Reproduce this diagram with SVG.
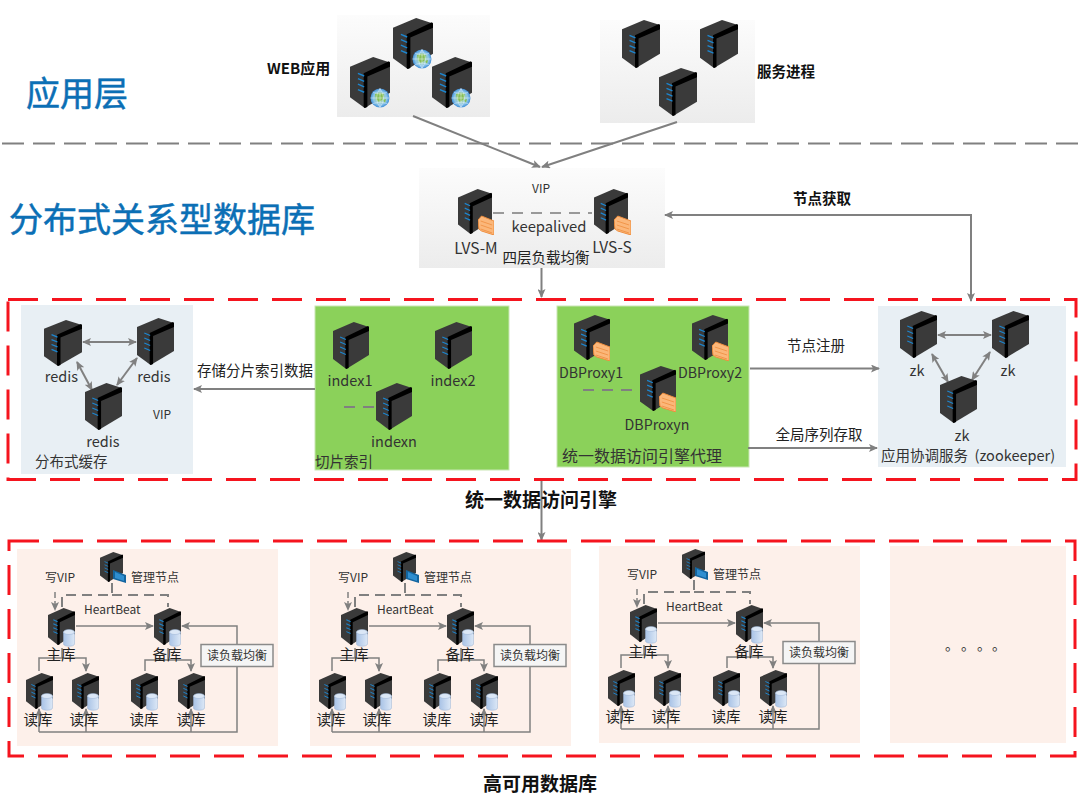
<svg xmlns="http://www.w3.org/2000/svg" width="1080" height="798" viewBox="0 0 1080 798">
<style>
text{font-family:"Noto Sans CJK SC","Noto Sans",sans-serif;fill:#333}
.m{text-anchor:middle}
.b{font-weight:bold;fill:#111}
.h{font-size:34px;fill:#0b6fb5;stroke:#0b6fb5;stroke-width:.5}
.c{fill:none;stroke:#808080;stroke-width:2}
.c1{fill:none;stroke:#808080;stroke-width:1.5}
.d{stroke-dasharray:11 8}
.a{marker-end:url(#ah)}
.aa{marker-end:url(#ah);marker-start:url(#as)}
.red{fill:none;stroke:#f5141e;stroke-width:3;stroke-dasharray:30 14}
.f12{font-size:12px}.f14{font-size:14.5px;fill:#222}.f15{font-size:14.5px}
.lab{fill:#f5f5f5;stroke:#8a8a8a;stroke-width:1.5}
</style>
<defs>
<linearGradient id="pg" x1="0" y1="0" x2="0" y2="1"><stop offset="0" stop-color="#fcfcfc"/><stop offset="1" stop-color="#ececec"/></linearGradient>
<linearGradient id="db" x1="0" y1="0" x2="1" y2="0"><stop offset="0" stop-color="#a9c3e6"/><stop offset="1" stop-color="#dbe7f6"/></linearGradient>
<radialGradient id="gl"><stop offset="0" stop-color="#a8d878"/><stop offset="0.7" stop-color="#8cc5e8"/><stop offset="1" stop-color="#3f8fd8"/></radialGradient>
<marker id="ah" markerWidth="9" markerHeight="8" refX="8" refY="4" orient="auto" markerUnits="userSpaceOnUse"><path d="M0 0L9 4L0 8L2 4Z" fill="#808080"/></marker>
<marker id="as" markerWidth="9" markerHeight="8" refX="1" refY="4" orient="auto" markerUnits="userSpaceOnUse"><path d="M9 0L0 4L9 8L7 4Z" fill="#808080"/></marker>
<symbol id="srv" viewBox="0 0 38 47" preserveAspectRatio="none">
<path d="M0 9L22 0L38 5V33L14 47L0 37Z" fill="#3a3a3a"/>
<path d="M13 15L37 4L38 5V9L16.500 18V46L14 47L13 46Z" fill="#000"/>
<path d="M7.500 15l6 2.500M7.500 20l6 2.500M7.500 25l6 2.500M7.500 30l6 2.500" stroke="#1c86d0" stroke-width="1.300" fill="none"/>
</symbol>
<symbol id="fw" viewBox="0 0 18 20" preserveAspectRatio="none">
<path d="M0 5L4 1L18 6V20L4 16L1 14Z" fill="#fbb77a" stroke="#ee8c3c" stroke-width="1"/>
<path d="M3 6l13 4M3 10l13 4M3 14l13 4" stroke="#ee8c3c" stroke-width=".8" fill="none"/>
</symbol>
<symbol id="gb" viewBox="0 0 20 20">
<circle cx="10" cy="10" r="9.500" fill="url(#gl)"/>
<path d="M5 6q5-3 9 0l-1 5l-4 3l-3-3ZM13 12l3-1l-1 4Z" fill="#86bf55"/>
<path d="M.5 10h19M10 .5v19M3 4.500q7 3 14 0M3 15.500q7-3 14 0M10 .5q-7 9.500 0 19M10 .5q7 9.500 0 19" stroke="#e8f4ff" stroke-width=".5" fill="none"/>
</symbol>
<symbol id="cyl" viewBox="0 0 12 18" preserveAspectRatio="none">
<path d="M.5 3V15C.5 18 11.500 18 11.500 15V3Z" fill="url(#db)" stroke="#9db4d4" stroke-width=".5"/>
<ellipse cx="6" cy="3" rx="5.500" ry="2.500" fill="#dbe7f6" stroke="#9db4d4" stroke-width=".5"/>
</symbol>
<symbol id="mon" viewBox="0 0 13 13" preserveAspectRatio="none">
<path d="M0 0L13 5V13L0 9Z" fill="#14659f"/><path d="M2 2L11 6V11L2 8Z" fill="#2f8ed0"/>
</symbol>
</defs>

<rect width="1080" height="798" fill="#fff"/>

<g id="titles">
<text x="26" y="106" class="h">应用层</text>
<text x="9" y="232" class="h">分布式关系型数据库</text>
</g>

<g id="panels">
<rect x="337" y="15" width="153" height="102" fill="url(#pg)"/>
<rect x="600" y="20" width="155" height="103" fill="url(#pg)"/>
<rect x="419" y="168" width="246" height="100" fill="url(#pg)"/>
</g>

<g id="connectors">
<path class="c" d="M2 143.500H1080" style="stroke-dasharray:22 9"/>
<path class="c a" d="M413 116L540 167"/>
<path class="c a" d="M677 122L542 167"/>
<path class="c a" d="M541.500 268V297"/>
<path class="c aa" d="M971 301V215H665"/>
<path class="c a" d="M541.500 480V540"/>
</g>

<g id="web-app">
<use href="#srv" x="350" y="57" width="40" height="51"/><use href="#gb" x="370" y="88" width="20" height="20"/>
<use href="#srv" x="393" y="18" width="40" height="51"/><use href="#gb" x="412" y="49" width="20" height="20"/>
<use href="#srv" x="432" y="57" width="40" height="51"/><use href="#gb" x="451" y="88" width="20" height="20"/>
<text x="267" y="74" class="b" font-size="15">WEB应用</text>
</g>
<g id="service-process">
<use href="#srv" x="622" y="20" width="38" height="48"/>
<use href="#srv" x="700" y="20" width="38" height="48"/>
<use href="#srv" x="659" y="68" width="38" height="48"/>
<text x="757" y="77" class="b" font-size="14.500">服务进程</text>
</g>

<g id="lvs">
<path class="c d" d="M493 213H592" style="stroke:#999"/>
<use href="#srv" x="458" y="189" width="34" height="45"/><use href="#fw" x="478" y="215" width="16" height="20"/>
<use href="#srv" x="594" y="189" width="34" height="45"/><use href="#fw" x="614" y="215" width="17" height="20"/>
<text x="541" y="193" class="m f12">VIP</text>
<text x="549" y="232" class="m" font-size="14.800">keepalived</text>
<text x="476" y="254" class="m" font-size="15.500">LVS-M</text>
<text x="612" y="253" class="m" font-size="15.500">LVS-S</text>
<text x="546" y="263" class="m f14">四层负载均衡</text>
</g>

<rect id="frame-engine" class="red" x="8" y="299.500" width="1068" height="180"/>

<g id="redis-cache">
<rect x="21" y="305" width="172" height="169" fill="#e8eff4"/>
<path class="c aa" d="M83 342H136"/>
<path class="c aa" d="M77 362L92 390"/>
<path class="c aa" d="M117 385L137 358"/>
<use href="#srv" x="44" y="320" width="38" height="46"/>
<use href="#srv" x="137" y="318" width="37" height="47"/>
<use href="#srv" x="85" y="383" width="37" height="47"/>
<text x="61.500" y="382" class="m f15">redis</text>
<text x="154" y="382" class="m f15">redis</text>
<text x="103" y="447" class="m f15">redis</text>
<text x="162" y="419" class="m f12">VIP</text>
<text x="35" y="467" font-size="14.500">分布式缓存</text>
</g>

<g id="slice-index">
<rect x="315" y="306" width="194" height="164" fill="#8bd15a" stroke="#c9e6b4" stroke-width="1"/>
<path class="c d" d="M344 407H376"/>
<use href="#srv" x="333" y="322" width="36" height="47"/>
<use href="#srv" x="435" y="322" width="37" height="47"/>
<use href="#srv" x="376" y="383" width="36" height="47"/>
<text x="350" y="386" class="m f15">index1</text>
<text x="453" y="386" class="m f15">index2</text>
<text x="394" y="447" class="m f15">indexn</text>
<text x="315" y="467" font-size="14.500">切片索引</text>
</g>

<g id="dbproxy">
<rect x="557" y="306" width="192" height="161" fill="#8bd15a" stroke="#c9e6b4" stroke-width="1"/>
<path class="c d" d="M583 390H640"/>
<use href="#srv" x="574" y="315" width="36" height="45"/><use href="#fw" x="593" y="341" width="17" height="20"/>
<use href="#srv" x="692" y="315" width="36" height="45"/><use href="#fw" x="712" y="341" width="17" height="20"/>
<use href="#srv" x="640" y="366" width="36" height="45"/><use href="#fw" x="659" y="392" width="17" height="20"/>
<text x="591" y="378" class="m" font-size="14.200">DBProxy1</text>
<text x="710" y="378" class="m" font-size="14.200">DBProxy2</text>
<text x="657" y="430" class="m" font-size="14.200">DBProxyn</text>
<text x="562" y="462" font-size="16">统一数据访问引擎代理</text>
</g>

<g id="zookeeper">
<rect x="878" y="306" width="188" height="161" fill="#e8eff4"/>
<path class="c aa" d="M938 335H991"/>
<path class="c aa" d="M932 354L948 382"/>
<path class="c aa" d="M972 380L990 352"/>
<use href="#srv" x="900" y="311" width="37" height="47"/>
<use href="#srv" x="992" y="311" width="37" height="47"/>
<use href="#srv" x="940" y="376" width="37" height="47"/>
<text x="917" y="376" class="m f15">zk</text>
<text x="1008" y="376" class="m f15">zk</text>
<text x="962" y="441" class="m f15">zk</text>
<text x="881" y="461" font-size="14.500">应用协调服务&#160;&#160;(zookeeper)</text>
</g>

<g id="edge-labels">
<path class="c a" d="M315 389H194"/>
<path class="c a" d="M750 368.500H879"/>
<path class="c a" d="M748 448H877"/>
<text x="255" y="376" class="m f14">存储分片索引数据</text>
<text x="816" y="351" class="m f14">节点注册</text>
<text x="819" y="440" class="m f14">全局序列存取</text>
<text x="822" y="204" class="m b" font-size="14.500">节点获取</text>
<text x="541" y="507" class="m b" font-size="19">统一数据访问引擎</text>
<text x="540" y="791" class="m b" font-size="19">高可用数据库</text>
</g>

<rect id="frame-db" class="red" x="9" y="541" width="1066" height="215"/>

<g id="db-cluster-1">
<rect x="17" y="549" width="261" height="197" fill="#fdf0ea"/>
<g class="links">
<path class="c d" d="M112 583V595H62V607M112 595H168V607" style="stroke-dasharray:10 6"/>
<path class="c1 a" style="stroke-dasharray:6 3" d="M55 592V610"/>
<path class="c1 a" d="M76 626H153"/>
<path class="c1 a" d="M62 648V658H39V671M62 658H86V671"/>
<path class="c1 a" d="M168 648V660H145V671M168 660H191V671"/>
<path class="c1 a" d="M39 732V709"/><path class="c1 a" d="M86 732V709"/><path class="c1 a" d="M191 732V709"/>
<path class="c1 a" d="M39 732H237V626H182"/>
</g>
<use href="#srv" x="100" y="552" width="23" height="30"/><use href="#mon" x="113" y="570" width="13" height="13"/>
<use href="#srv" x="48" y="608" width="27" height="37"/><use href="#cyl" x="63" y="629" width="12" height="18"/>
<use href="#srv" x="154" y="608" width="27" height="37"/><use href="#cyl" x="169" y="629" width="12" height="18"/>
<use href="#srv" x="26" y="673" width="27" height="36"/><use href="#cyl" x="41" y="693" width="12" height="18"/>
<use href="#srv" x="72" y="673" width="27" height="36"/><use href="#cyl" x="87" y="693" width="12" height="18"/>
<use href="#srv" x="131" y="673" width="27" height="36"/><use href="#cyl" x="146" y="693" width="12" height="18"/>
<use href="#srv" x="178" y="673" width="27" height="36"/><use href="#cyl" x="193" y="693" width="12" height="18"/>
<text x="131" y="582" class="f12">管理节点</text><text x="45" y="582" class="f12">写VIP</text>
<text x="84" y="614" class="f12">HeartBeat</text>
<text x="61" y="660" class="m f14">主库</text><text x="167" y="660" class="m f14">备库</text>
<text x="38" y="725" class="m f14">读库</text><text x="84" y="725" class="m f14">读库</text><text x="144" y="725" class="m f14">读库</text><text x="191" y="725" class="m f14">读库</text>
<rect class="lab" x="201" y="644.500" width="72" height="22"/><text x="237" y="660" class="m f12">读负载均衡</text>
</g>

<g id="db-cluster-2" transform="translate(293 0)">
<rect x="17" y="549" width="261" height="197" fill="#fdf0ea"/>
<g class="links">
<path class="c d" d="M112 583V595H62V607M112 595H168V607" style="stroke-dasharray:10 6"/>
<path class="c1 a" style="stroke-dasharray:6 3" d="M55 592V610"/>
<path class="c1 a" d="M76 626H153"/>
<path class="c1 a" d="M62 648V658H39V671M62 658H86V671"/>
<path class="c1 a" d="M168 648V660H145V671M168 660H191V671"/>
<path class="c1 a" d="M39 732V709"/><path class="c1 a" d="M86 732V709"/><path class="c1 a" d="M191 732V709"/>
<path class="c1 a" d="M39 732H237V626H182"/>
</g>
<use href="#srv" x="100" y="552" width="23" height="30"/><use href="#mon" x="113" y="570" width="13" height="13"/>
<use href="#srv" x="48" y="608" width="27" height="37"/><use href="#cyl" x="63" y="629" width="12" height="18"/>
<use href="#srv" x="154" y="608" width="27" height="37"/><use href="#cyl" x="169" y="629" width="12" height="18"/>
<use href="#srv" x="26" y="673" width="27" height="36"/><use href="#cyl" x="41" y="693" width="12" height="18"/>
<use href="#srv" x="72" y="673" width="27" height="36"/><use href="#cyl" x="87" y="693" width="12" height="18"/>
<use href="#srv" x="131" y="673" width="27" height="36"/><use href="#cyl" x="146" y="693" width="12" height="18"/>
<use href="#srv" x="178" y="673" width="27" height="36"/><use href="#cyl" x="193" y="693" width="12" height="18"/>
<text x="131" y="582" class="f12">管理节点</text><text x="45" y="582" class="f12">写VIP</text>
<text x="84" y="614" class="f12">HeartBeat</text>
<text x="61" y="660" class="m f14">主库</text><text x="167" y="660" class="m f14">备库</text>
<text x="38" y="725" class="m f14">读库</text><text x="84" y="725" class="m f14">读库</text><text x="144" y="725" class="m f14">读库</text><text x="191" y="725" class="m f14">读库</text>
<rect class="lab" x="201" y="644.500" width="72" height="22"/><text x="237" y="660" class="m f12">读负载均衡</text>
</g>

<g id="db-cluster-3" transform="translate(582 -3)">
<rect x="17" y="549" width="261" height="197" fill="#fdf0ea"/>
<g class="links">
<path class="c d" d="M112 583V595H62V607M112 595H168V607" style="stroke-dasharray:10 6"/>
<path class="c1 a" style="stroke-dasharray:6 3" d="M55 592V610"/>
<path class="c1 a" d="M76 626H153"/>
<path class="c1 a" d="M62 648V658H39V671M62 658H86V671"/>
<path class="c1 a" d="M168 648V660H145V671M168 660H191V671"/>
<path class="c1 a" d="M39 732V709"/><path class="c1 a" d="M86 732V709"/><path class="c1 a" d="M191 732V709"/>
<path class="c1 a" d="M39 732H237V626H182"/>
</g>
<use href="#srv" x="100" y="552" width="23" height="30"/><use href="#mon" x="113" y="570" width="13" height="13"/>
<use href="#srv" x="48" y="608" width="27" height="37"/><use href="#cyl" x="63" y="629" width="12" height="18"/>
<use href="#srv" x="154" y="608" width="27" height="37"/><use href="#cyl" x="169" y="629" width="12" height="18"/>
<use href="#srv" x="26" y="673" width="27" height="36"/><use href="#cyl" x="41" y="693" width="12" height="18"/>
<use href="#srv" x="72" y="673" width="27" height="36"/><use href="#cyl" x="87" y="693" width="12" height="18"/>
<use href="#srv" x="131" y="673" width="27" height="36"/><use href="#cyl" x="146" y="693" width="12" height="18"/>
<use href="#srv" x="178" y="673" width="27" height="36"/><use href="#cyl" x="193" y="693" width="12" height="18"/>
<text x="131" y="582" class="f12">管理节点</text><text x="45" y="582" class="f12">写VIP</text>
<text x="84" y="614" class="f12">HeartBeat</text>
<text x="61" y="660" class="m f14">主库</text><text x="167" y="660" class="m f14">备库</text>
<text x="38" y="725" class="m f14">读库</text><text x="84" y="725" class="m f14">读库</text><text x="144" y="725" class="m f14">读库</text><text x="191" y="725" class="m f14">读库</text>
<rect class="lab" x="201" y="644.500" width="72" height="22"/><text x="237" y="660" class="m f12">读负载均衡</text>
</g>

<g id="db-cluster-more">
<rect x="890" y="546" width="176" height="197" fill="#fdf0ea"/>
<text x="945 961 977 992" y="650" font-size="14">。。。。</text>
</g>
</svg>
